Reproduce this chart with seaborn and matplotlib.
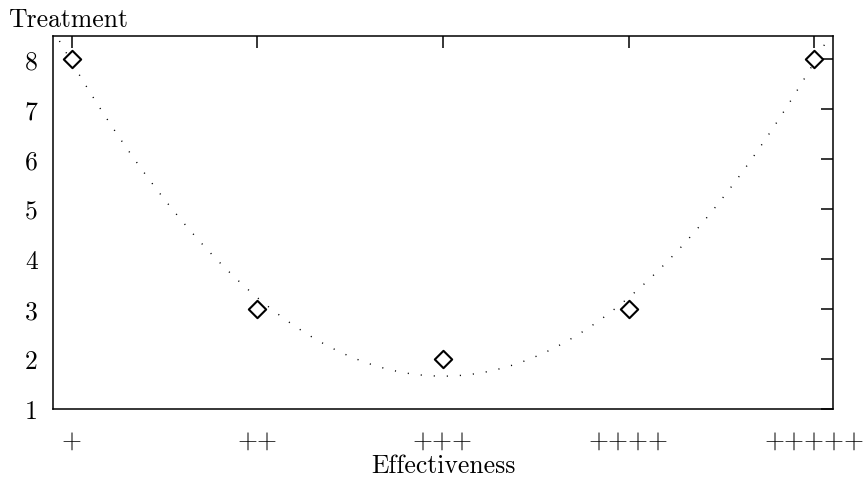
import matplotlib
matplotlib.use("Agg")
import matplotlib.pyplot as plt
import seaborn as sns
import pandas as pd

# data
effectiveness_pos = [1, 2, 3, 4, 5]
effectiveness_labels = ["+", "++", "+++", "++++", "+++++"]
treatment = [8, 3, 2, 3, 8]
y_ticks = [1, 2, 3, 4, 5, 6, 7, 8]

df = pd.DataFrame({"Effectiveness": effectiveness_pos, "Treatment": treatment})

sns.set_theme(style="white")
plt.rcParams["font.family"] = ["cmr10", "DejaVu Serif"]
plt.rcParams["axes.formatter.use_mathtext"] = True

FS = 18.5

fig = plt.figure(figsize=(8.63, 4.81), dpi=100)
ax = fig.add_axes([53/863, 1-410/481, 780/863, 373/481])
ax.set_xlim(0.9, 5.1)
ax.set_ylim(1, 8.46)

sns.regplot(data=df, x="Effectiveness", y="Treatment", order=2, ci=None,
            scatter=False, truncate=False, ax=ax,
            line_kws=dict(color="black", lw=1.0, linestyle=(0, (0.8, 8.6))))
sns.scatterplot(data=df, x="Effectiveness", y="Treatment", ax=ax, marker="D",
                s=78, facecolor="white", edgecolor="black", linewidth=1.5,
                zorder=5)

ax.set_xlim(0.9, 5.1)
ax.set_ylim(1, 8.46)
ax.set_xticks(effectiveness_pos)
ax.set_xticklabels(effectiveness_labels)
ax.set_yticks(y_ticks)
ax.set_yticklabels([str(v) for v in y_ticks])

for s in ax.spines.values():
    s.set_color("black")
    s.set_linewidth(1.1)

ax.tick_params(axis="both", direction="in", length=8.5, width=1.1,
               colors="black", labelsize=FS, top=True, right=True)
ax.tick_params(axis="y", pad=11)
ax.tick_params(axis="x", pad=14)

ax.set_ylabel("")
ax.set_xlabel("Effectiveness", fontsize=FS, color="black", labelpad=1)
fig.text(8/863, 1-27/481, "Treatment", fontsize=FS, color="black",
         ha="left", va="baseline")

fig.savefig("out.png", dpi=100, facecolor="white")
